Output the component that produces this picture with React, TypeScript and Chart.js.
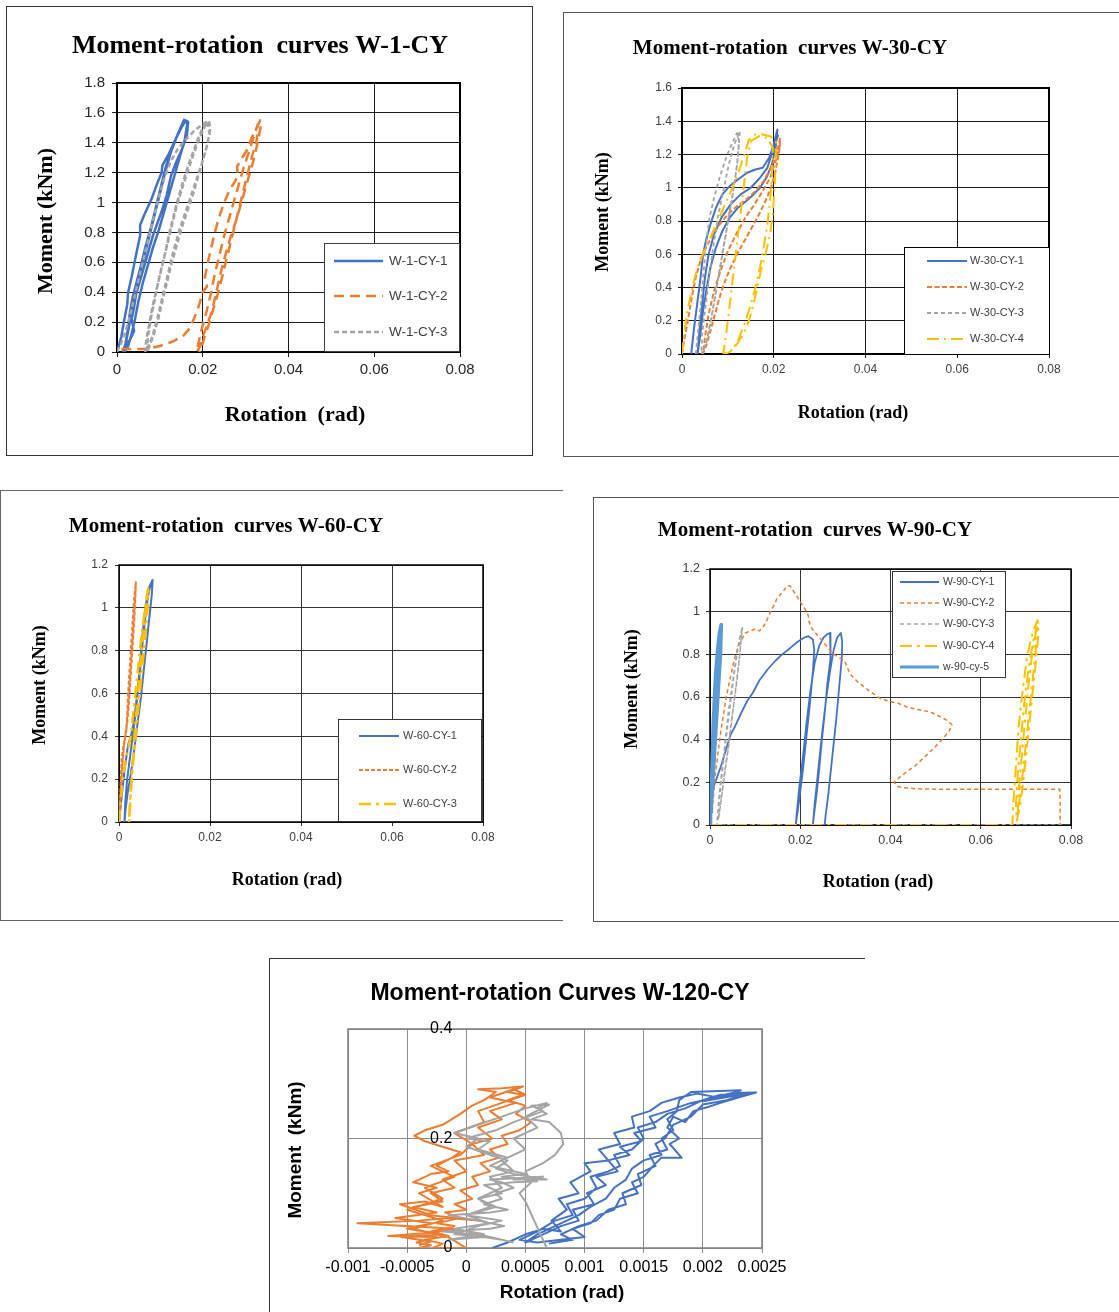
import React, { useEffect, useRef } from "react";
import { Chart, registerables } from "chart.js";

Chart.register(...registerables);

type Pt = [number, number];

// ================= W-1-CY =================
const W1_X_TICKS = [0, 0.02, 0.04, 0.06, 0.08];
const W1_Y_TICKS = [0, 0.2, 0.4, 0.6, 0.8, 1, 1.2, 1.4, 1.6, 1.8];
const W1_LABELS = ["W-1-CY-1", "W-1-CY-2", "W-1-CY-3"];
const W1_CY_1: Pt[] = [
  [0.0, 0.0], [0.001, 0.1], [0.0016, 0.2], [0.0024, 0.32], [0.0026, 0.4], [0.0034, 0.5], [0.0041, 0.6], [0.0048, 0.7], [0.0054, 0.78], [0.0054, 0.85], [0.0064, 0.92], [0.008, 1.02], [0.0094, 1.13], [0.0104, 1.2], [0.0106, 1.25], [0.012, 1.32], [0.0136, 1.42], [0.015, 1.5], [0.016, 1.55],
  [0.0166, 1.54], [0.0163, 1.45], [0.0152, 1.36], [0.0138, 1.27], [0.0126, 1.18], [0.0116, 1.05], [0.0104, 0.94], [0.0094, 0.86], [0.0084, 0.78], [0.0074, 0.68], [0.0064, 0.58], [0.0054, 0.48], [0.0044, 0.38], [0.004, 0.3], [0.0034, 0.22], [0.004, 0.14], [0.003, 0.08], [0.0018, 0.03], [0.0014, 0.0],
  [0.002, 0.06], [0.0026, 0.16], [0.003, 0.26], [0.0036, 0.36], [0.0045, 0.46], [0.0056, 0.58], [0.0066, 0.7], [0.0078, 0.82], [0.009, 0.96], [0.0102, 1.1], [0.0114, 1.24], [0.0128, 1.36], [0.0142, 1.46], [0.0156, 1.55],
  [0.0164, 1.53], [0.0158, 1.42], [0.0146, 1.3], [0.0134, 1.18], [0.0122, 1.06], [0.011, 0.94], [0.0098, 0.82], [0.0084, 0.7], [0.0072, 0.58], [0.006, 0.46], [0.005, 0.34], [0.0042, 0.22], [0.0034, 0.12], [0.0026, 0.04], [0.0018, 0.0],
  [0.0022, 0.08], [0.003, 0.2], [0.004, 0.34], [0.005, 0.48], [0.0062, 0.62], [0.0074, 0.76], [0.0088, 0.92], [0.01, 1.06], [0.0112, 1.2], [0.0126, 1.34], [0.0142, 1.46], [0.0158, 1.56]
];
const W1_CY_2: Pt[] = [
  [0.001, 0.02], [0.004, 0.02], [0.007, 0.02], [0.01, 0.04], [0.013, 0.07], [0.0155, 0.11], [0.017, 0.16], [0.0182, 0.24], [0.0192, 0.32], [0.02, 0.4], [0.021, 0.44], [0.0205, 0.5], [0.0212, 0.6], [0.022, 0.7], [0.0228, 0.8], [0.0238, 0.9], [0.025, 1.0], [0.0262, 1.08], [0.0275, 1.14], [0.0282, 1.18], [0.028, 1.24], [0.0292, 1.3], [0.0305, 1.36], [0.0312, 1.42], [0.0322, 1.48], [0.0334, 1.55],
  [0.0336, 1.52], [0.0328, 1.4], [0.032, 1.3], [0.031, 1.2], [0.0298, 1.08], [0.0288, 0.98], [0.0278, 0.88], [0.0266, 0.78], [0.0256, 0.68], [0.0246, 0.58], [0.0238, 0.48], [0.023, 0.38], [0.0222, 0.28], [0.021, 0.18], [0.02, 0.1], [0.0194, 0.04], [0.0186, 0.0],
  [0.019, 0.06], [0.0198, 0.16], [0.0208, 0.26], [0.0218, 0.38], [0.0228, 0.52], [0.024, 0.66], [0.0252, 0.8], [0.0266, 0.94], [0.028, 1.08], [0.0294, 1.22], [0.031, 1.36], [0.0328, 1.52],
  [0.0326, 1.42], [0.0314, 1.3], [0.03, 1.14], [0.0288, 1.0], [0.0276, 0.86], [0.0264, 0.72], [0.0252, 0.58], [0.024, 0.44], [0.0228, 0.32], [0.0216, 0.2], [0.0204, 0.1], [0.0196, 0.02], [0.0192, 0.0]
];
const W1_CY_3: Pt[] = [
  [0.0, 0.0], [0.001, 0.06], [0.002, 0.14], [0.003, 0.24], [0.004, 0.36], [0.005, 0.48], [0.006, 0.6], [0.0072, 0.74], [0.0084, 0.88], [0.0096, 1.02], [0.011, 1.16], [0.0126, 1.28], [0.0142, 1.36], [0.016, 1.42], [0.018, 1.48], [0.0198, 1.52], [0.0214, 1.55],
  [0.0218, 1.5], [0.021, 1.38], [0.0198, 1.26], [0.0186, 1.16], [0.0172, 1.04], [0.0158, 0.92], [0.0146, 0.82], [0.0134, 0.7], [0.0122, 0.56], [0.0112, 0.44], [0.0102, 0.32], [0.0092, 0.2], [0.0082, 0.1], [0.0072, 0.03], [0.0066, 0.0],
  [0.0068, 0.08], [0.0076, 0.2], [0.0084, 0.32], [0.0094, 0.44], [0.0104, 0.56], [0.0114, 0.68], [0.0124, 0.8], [0.0136, 0.94], [0.015, 1.08], [0.0164, 1.2], [0.0178, 1.32], [0.0194, 1.44], [0.021, 1.54],
  [0.0216, 1.46], [0.0206, 1.34], [0.0194, 1.22], [0.018, 1.08], [0.0166, 0.96], [0.0152, 0.84], [0.014, 0.72], [0.0128, 0.6], [0.0116, 0.46], [0.0106, 0.34], [0.0096, 0.22], [0.0086, 0.12], [0.0076, 0.04], [0.007, 0.0],
  [0.0072, 0.1], [0.008, 0.24], [0.009, 0.38], [0.01, 0.52], [0.0112, 0.66], [0.0124, 0.82], [0.0138, 0.98], [0.0154, 1.14], [0.017, 1.28], [0.0188, 1.42], [0.0206, 1.54]
];

// ================= W-30-CY =================
const W30_X_TICKS = [0, 0.02, 0.04, 0.06, 0.08];
const W30_Y_TICKS = [0, 0.2, 0.4, 0.6, 0.8, 1, 1.2, 1.4, 1.6];
const W30_LABELS = ["W-30-CY-1", "W-30-CY-2", "W-30-CY-3", "W-30-CY-4"];
const W30_CY_1: Pt[] = [
  [0.002, 0.0], [0.0026, 0.15], [0.0033, 0.3], [0.004, 0.45], [0.0046, 0.6], [0.0052, 0.68], [0.0062, 0.78], [0.0074, 0.88], [0.0088, 0.96], [0.0104, 1.01], [0.0122, 1.05], [0.0142, 1.09], [0.016, 1.11], [0.0176, 1.12], [0.019, 1.18], [0.02, 1.26], [0.0208, 1.35],
  [0.0204, 1.24], [0.0196, 1.14], [0.0184, 1.06], [0.017, 1.0], [0.0156, 0.96], [0.014, 0.92], [0.0122, 0.88], [0.0104, 0.82], [0.0088, 0.74], [0.0074, 0.64], [0.0062, 0.52], [0.0054, 0.4], [0.0046, 0.26], [0.004, 0.12], [0.0034, 0.0],
  [0.0038, 0.14], [0.0044, 0.3], [0.005, 0.46], [0.0058, 0.6], [0.007, 0.72], [0.0086, 0.82], [0.0106, 0.9], [0.0128, 0.96], [0.015, 1.0], [0.017, 1.06], [0.0186, 1.12], [0.02, 1.24], [0.021, 1.32]
];
const W30_CY_2: Pt[] = [
  [0.0, 0.0], [0.0006, 0.1], [0.0014, 0.22], [0.0022, 0.35], [0.003, 0.46], [0.004, 0.56], [0.0052, 0.64], [0.0066, 0.71], [0.0082, 0.78], [0.01, 0.84], [0.012, 0.89], [0.014, 0.93], [0.016, 0.98], [0.0178, 1.04], [0.0194, 1.12], [0.0206, 1.2], [0.0214, 1.3],
  [0.0212, 1.22], [0.0204, 1.1], [0.0194, 1.0], [0.0182, 0.92], [0.0168, 0.84], [0.0152, 0.76], [0.0136, 0.68], [0.012, 0.6], [0.0106, 0.52], [0.0094, 0.44], [0.0084, 0.36], [0.0074, 0.26], [0.0064, 0.16], [0.0054, 0.06], [0.0046, 0.0],
  [0.005, 0.1], [0.0058, 0.24], [0.007, 0.38], [0.0084, 0.5], [0.01, 0.62], [0.0118, 0.72], [0.0138, 0.82], [0.0158, 0.9], [0.0176, 0.98], [0.0192, 1.06], [0.0204, 1.16], [0.0214, 1.26]
];
const W30_CY_3: Pt[] = [
  [0.003, 0.0], [0.0036, 0.16], [0.0042, 0.34], [0.0048, 0.52], [0.0054, 0.7], [0.006, 0.82], [0.007, 0.94], [0.0082, 1.06], [0.0096, 1.18], [0.0108, 1.26], [0.012, 1.33],
  [0.0124, 1.28], [0.012, 1.14], [0.0112, 0.98], [0.0102, 0.82], [0.0092, 0.66], [0.0082, 0.5], [0.0072, 0.34], [0.0062, 0.18], [0.0052, 0.06], [0.0042, 0.0],
  [0.0044, 0.12], [0.0052, 0.3], [0.006, 0.48], [0.0068, 0.64], [0.0078, 0.82], [0.009, 0.98], [0.0102, 1.14], [0.0114, 1.26], [0.0126, 1.34],
  [0.0122, 1.18], [0.0114, 1.02], [0.0104, 0.86], [0.0094, 0.7], [0.0084, 0.54], [0.0074, 0.38], [0.0064, 0.22], [0.0054, 0.08], [0.0044, 0.0]
];
const W30_CY_4: Pt[] = [
  [0.0, 0.0], [0.0004, 0.1], [0.001, 0.24], [0.0018, 0.34], [0.0026, 0.44], [0.0036, 0.54], [0.0048, 0.62], [0.0062, 0.7], [0.0078, 0.8], [0.0094, 0.9], [0.011, 1.0], [0.0124, 1.1], [0.0136, 1.2], [0.0146, 1.29], [0.016, 1.32], [0.0176, 1.32], [0.0192, 1.31], [0.0205, 1.28],
  [0.0204, 1.15], [0.0202, 1.0], [0.0198, 0.85], [0.0192, 0.72], [0.0182, 0.6], [0.0172, 0.5], [0.0164, 0.4], [0.0156, 0.3], [0.0146, 0.2], [0.0134, 0.12], [0.012, 0.06], [0.0106, 0.02], [0.009, 0.0],
  [0.0094, 0.08], [0.01, 0.2], [0.0106, 0.34], [0.0112, 0.48], [0.0118, 0.62], [0.0124, 0.76], [0.013, 0.9], [0.0136, 1.04], [0.0142, 1.18], [0.015, 1.28], [0.0168, 1.31], [0.0186, 1.3], [0.0198, 1.24],
  [0.0196, 1.08], [0.0192, 0.92], [0.0186, 0.78], [0.0178, 0.64], [0.017, 0.52], [0.016, 0.4], [0.0148, 0.28], [0.0136, 0.18], [0.0122, 0.08], [0.0108, 0.02], [0.0096, 0.0]
];

// ================= W-60-CY =================
const W60_X_TICKS = [0, 0.02, 0.04, 0.06, 0.08];
const W60_Y_TICKS = [0, 0.2, 0.4, 0.6, 0.8, 1, 1.2];
const W60_LABELS = ["W-60-CY-1", "W-60-CY-2", "W-60-CY-3"];
const W60_CY_1: Pt[] = [
  [0.0, 0.0], [0.0004, 0.08], [0.0008, 0.16], [0.0012, 0.24], [0.0016, 0.3], [0.002, 0.36], [0.0026, 0.4], [0.0032, 0.46], [0.0038, 0.56], [0.0043, 0.66], [0.0047, 0.76], [0.0051, 0.86], [0.0056, 0.96], [0.0061, 1.04], [0.0067, 1.1], [0.0074, 1.13],
  [0.0072, 1.06], [0.0068, 0.98], [0.0063, 0.88], [0.0058, 0.78], [0.0053, 0.68], [0.0048, 0.58], [0.0042, 0.48], [0.0036, 0.38], [0.003, 0.28], [0.0024, 0.2], [0.0018, 0.12], [0.0014, 0.05], [0.0012, 0.0],
  [0.0014, 0.1], [0.0018, 0.2], [0.0024, 0.3], [0.003, 0.4], [0.0036, 0.5], [0.0041, 0.6], [0.0046, 0.7], [0.005, 0.8], [0.0055, 0.9], [0.006, 1.0], [0.0066, 1.08], [0.0073, 1.13]
];
const W60_CY_2: Pt[] = [
  [0.0, 0.0], [0.0002, 0.1], [0.0004, 0.2], [0.0006, 0.3], [0.001, 0.36], [0.0016, 0.42], [0.0018, 0.5], [0.002, 0.6], [0.0023, 0.7], [0.0026, 0.8], [0.0029, 0.9], [0.0032, 1.0], [0.0034, 1.06], [0.0037, 1.12],
  [0.0036, 1.05], [0.0034, 0.96], [0.0031, 0.86], [0.0028, 0.76], [0.0025, 0.66], [0.0022, 0.56], [0.0018, 0.46], [0.0012, 0.38], [0.0008, 0.28], [0.0005, 0.18], [0.0002, 0.08], [0.0001, 0.0],
  [0.0003, 0.12], [0.0006, 0.24], [0.001, 0.34], [0.0016, 0.44], [0.002, 0.54], [0.0023, 0.64], [0.0026, 0.74], [0.0029, 0.84], [0.0032, 0.94], [0.0035, 1.04], [0.0037, 1.11]
];
const W60_CY_3: Pt[] = [
  [0.0, 0.0], [0.0004, 0.1], [0.0008, 0.2], [0.0014, 0.28], [0.002, 0.34], [0.0026, 0.4], [0.003, 0.48], [0.0035, 0.58], [0.004, 0.68], [0.0045, 0.78], [0.005, 0.88], [0.0055, 0.96], [0.006, 1.04], [0.0064, 1.09],
  [0.0063, 1.0], [0.0059, 0.9], [0.0055, 0.8], [0.005, 0.7], [0.0046, 0.6], [0.0041, 0.5], [0.0037, 0.4], [0.0032, 0.3], [0.0028, 0.2], [0.0025, 0.1], [0.0022, 0.0],
  [0.0024, 0.1], [0.0028, 0.22], [0.0032, 0.34], [0.0036, 0.46], [0.0041, 0.58], [0.0046, 0.7], [0.0051, 0.82], [0.0056, 0.94], [0.0061, 1.04], [0.0065, 1.08]
];

// ================= W-90-CY =================
const W90_X_TICKS = [0, 0.02, 0.04, 0.06, 0.08];
const W90_Y_TICKS = [0, 0.2, 0.4, 0.6, 0.8, 1, 1.2];
const W90_LABELS = ["W-90-CY-1", "W-90-CY-2", "W-90-CY-3", "W-90-CY-4", "w-90-cy-5"];
const W90_CY_1: Pt[] = [
  [0.0, 0.0], [0.0004, 0.1], [0.0008, 0.18], [0.0015, 0.22], [0.0025, 0.28], [0.0035, 0.35], [0.0045, 0.42], [0.0055, 0.46], [0.0068, 0.52], [0.0082, 0.58], [0.0095, 0.62], [0.011, 0.68], [0.0128, 0.73], [0.0145, 0.77], [0.016, 0.8], [0.0178, 0.83], [0.0195, 0.86], [0.021, 0.88], [0.0218, 0.885], [0.0228, 0.87], [0.0231, 0.82],
  [0.0228, 0.72], [0.0222, 0.58], [0.0214, 0.42], [0.0206, 0.26], [0.0198, 0.12], [0.019, 0.0], [0.0192, 0.05], [0.0198, 0.18], [0.0206, 0.32], [0.0214, 0.48], [0.0222, 0.62], [0.0232, 0.76], [0.0242, 0.84], [0.0252, 0.88], [0.026, 0.895], [0.0266, 0.9],
  [0.0268, 0.85], [0.0266, 0.78], [0.026, 0.66], [0.0254, 0.52], [0.0248, 0.4], [0.0242, 0.26], [0.0236, 0.14], [0.023, 0.04], [0.0228, 0.0], [0.0232, 0.1], [0.0238, 0.22], [0.0244, 0.34], [0.025, 0.46], [0.0258, 0.6], [0.0266, 0.72], [0.0274, 0.82], [0.0282, 0.88], [0.029, 0.9],
  [0.0293, 0.86], [0.0292, 0.78], [0.0286, 0.64], [0.028, 0.5], [0.0274, 0.38], [0.0268, 0.26], [0.0262, 0.14], [0.0256, 0.04], [0.0254, 0.0]
];
const W90_CY_2: Pt[] = [
  [0.0, 0.0], [0.0004, 0.06], [0.0008, 0.14], [0.0012, 0.24], [0.0018, 0.34], [0.0024, 0.44], [0.003, 0.52], [0.0036, 0.6], [0.0044, 0.68], [0.0052, 0.76], [0.006, 0.82], [0.0068, 0.86], [0.0078, 0.9], [0.009, 0.91], [0.0102, 0.92], [0.011, 0.91], [0.0118, 0.93], [0.0124, 0.95], [0.013, 0.98], [0.0136, 1.01], [0.0142, 1.03], [0.0148, 1.06], [0.0156, 1.08], [0.0164, 1.1], [0.017, 1.12], [0.0178, 1.12],
  [0.0184, 1.1], [0.019, 1.08], [0.0196, 1.06], [0.0202, 1.04], [0.0208, 1.02], [0.0214, 1.0], [0.0218, 0.98], [0.022, 0.95], [0.0226, 0.92], [0.0234, 0.9], [0.0242, 0.88], [0.025, 0.86], [0.0258, 0.84], [0.0266, 0.82], [0.0274, 0.8], [0.0282, 0.79], [0.029, 0.78], [0.0298, 0.77], [0.0304, 0.74], [0.031, 0.71], [0.0318, 0.69], [0.0328, 0.67], [0.034, 0.65], [0.0352, 0.63], [0.0366, 0.61], [0.038, 0.59], [0.0398, 0.58], [0.0418, 0.57], [0.044, 0.55], [0.0464, 0.54], [0.0488, 0.53], [0.0508, 0.51], [0.0526, 0.49], [0.0536, 0.47],
  [0.053, 0.44], [0.0514, 0.4], [0.0496, 0.36], [0.0476, 0.32], [0.0456, 0.28], [0.0436, 0.25], [0.0418, 0.22], [0.0408, 0.2], [0.0416, 0.18], [0.043, 0.175], [0.0455, 0.17], [0.05, 0.168], [0.055, 0.167], [0.06, 0.167], [0.065, 0.167], [0.07, 0.167], [0.0752, 0.167], [0.0775, 0.167], [0.0776, 0.1], [0.0776, 0.0]
];
const W90_CY_3: Pt[] = [
  [0.078, 0.0], [0.0015, 0.0], [0.0018, 0.08], [0.0022, 0.18], [0.0028, 0.28], [0.0034, 0.4], [0.004, 0.52], [0.0048, 0.64], [0.0056, 0.76], [0.0064, 0.86], [0.0072, 0.93],
  [0.0068, 0.84], [0.0062, 0.72], [0.0055, 0.6], [0.0047, 0.48], [0.004, 0.36], [0.0032, 0.24], [0.0025, 0.12], [0.0018, 0.02],
  [0.002, 0.1], [0.0026, 0.22], [0.0032, 0.34], [0.0039, 0.46], [0.0046, 0.58], [0.0053, 0.7], [0.006, 0.8], [0.0066, 0.88], [0.0071, 0.92],
  [0.0066, 0.8], [0.0058, 0.66], [0.005, 0.52], [0.0042, 0.38], [0.0034, 0.26], [0.0026, 0.14], [0.002, 0.04]
];
const W90_CY_4: Pt[] = [
  [0.0, 0.0], [0.067, 0.0], [0.0672, 0.1], [0.0676, 0.22], [0.068, 0.34], [0.0684, 0.46], [0.069, 0.58], [0.0696, 0.68], [0.0702, 0.78], [0.071, 0.86], [0.0718, 0.92], [0.0726, 0.96],
  [0.0728, 0.9], [0.0724, 0.8], [0.0718, 0.68], [0.0712, 0.56], [0.0706, 0.44], [0.07, 0.32], [0.0694, 0.2], [0.0688, 0.1], [0.068, 0.02],
  [0.0678, 0.1], [0.0682, 0.24], [0.0688, 0.38], [0.0694, 0.52], [0.07, 0.64], [0.0708, 0.76], [0.0716, 0.86], [0.0724, 0.93],
  [0.0722, 0.82], [0.0716, 0.7], [0.071, 0.58], [0.0704, 0.46], [0.0698, 0.34], [0.0692, 0.22], [0.0686, 0.12], [0.0682, 0.04],
  [0.0684, 0.16], [0.069, 0.3], [0.0696, 0.44], [0.0702, 0.58], [0.0708, 0.7], [0.0714, 0.8], [0.0722, 0.9], [0.0728, 0.95]
];
const W90_CY_5: Pt[] = [
  [0.0, 0.0], [0.0002, 0.15], [0.0004, 0.3], [0.0006, 0.45], [0.0009, 0.6], [0.0012, 0.72], [0.0016, 0.82], [0.002, 0.9], [0.0024, 0.94],
  [0.0025, 0.88], [0.0022, 0.76], [0.0018, 0.62], [0.0014, 0.48], [0.001, 0.34], [0.0006, 0.2], [0.0003, 0.06],
  [0.0004, 0.2], [0.0008, 0.36], [0.0012, 0.52], [0.0016, 0.66], [0.002, 0.8], [0.0024, 0.92], [0.0026, 0.94],
  [0.0024, 0.8], [0.002, 0.66], [0.0016, 0.52], [0.0012, 0.38], [0.0008, 0.24], [0.0004, 0.1],
  [0.0006, 0.26], [0.001, 0.42], [0.0014, 0.58], [0.0018, 0.72], [0.0022, 0.86], [0.0025, 0.93]
];

// ================= W-120-CY =================
const W120_X_TICKS = [-0.001, -0.0005, 0, 0.0005, 0.001, 0.0015, 0.002, 0.0025];
const W120_Y_TICKS = [0, 0.2, 0.4];
const W120_LABELS = ["W-120-CY-1", "W-120-CY-2", "W-120-CY-3"];
const W120_CY_1: Pt[] = [
  [0.00022, 0.0], [0.00035, 0.01], [0.0005, 0.025], [0.00065, 0.035], [0.0008, 0.03], [0.00072, 0.05], [0.00085, 0.07], [0.00078, 0.09], [0.00095, 0.1], [0.00088, 0.12], [0.00105, 0.14], [0.001, 0.155], [0.0012, 0.16], [0.00112, 0.18], [0.0013, 0.19], [0.00125, 0.21], [0.00142, 0.22], [0.0014, 0.24], [0.00155, 0.25], [0.00165, 0.265], [0.0018, 0.275], [0.00195, 0.282], [0.0021, 0.276], [0.00225, 0.283], [0.00245, 0.284],
  [0.0023, 0.275], [0.00215, 0.265], [0.00205, 0.258], [0.00192, 0.25], [0.00185, 0.23], [0.00175, 0.24], [0.0017, 0.22], [0.0018, 0.2], [0.00172, 0.19], [0.00182, 0.165], [0.00165, 0.165], [0.00158, 0.15], [0.0015, 0.13], [0.0014, 0.12], [0.00145, 0.1], [0.0013, 0.09], [0.00125, 0.07], [0.00112, 0.06], [0.00105, 0.045], [0.0009, 0.035], [0.001, 0.02], [0.0008, 0.015], [0.0006, 0.01], [0.00045, 0.015],
  [0.0006, 0.03], [0.00075, 0.05], [0.0009, 0.06], [0.00085, 0.08], [0.001, 0.09], [0.0011, 0.11], [0.00105, 0.13], [0.0012, 0.14], [0.0013, 0.15], [0.00125, 0.17], [0.0014, 0.18], [0.0015, 0.2], [0.00145, 0.22], [0.0016, 0.23], [0.0017, 0.245], [0.00185, 0.255], [0.002, 0.27], [0.00215, 0.28], [0.00235, 0.28],
  [0.0022, 0.27], [0.002, 0.262], [0.0019, 0.24], [0.00175, 0.225], [0.00168, 0.2], [0.0016, 0.19], [0.00165, 0.17], [0.0015, 0.16], [0.0014, 0.145], [0.00135, 0.125], [0.00125, 0.11], [0.00118, 0.09], [0.00105, 0.075], [0.00095, 0.06], [0.00085, 0.05], [0.0007, 0.035], [0.0006, 0.025], [0.0005, 0.01],
  [0.0006, 0.02], [0.0008, 0.04], [0.00095, 0.05], [0.0009, 0.07], [0.00108, 0.08], [0.00102, 0.1], [0.00118, 0.115], [0.0011, 0.13], [0.00128, 0.14], [0.0012, 0.16], [0.00138, 0.17], [0.0013, 0.185], [0.00148, 0.195], [0.00142, 0.21], [0.0016, 0.22], [0.00155, 0.24], [0.0017, 0.25], [0.0019, 0.265], [0.0022, 0.278], [0.002, 0.268], [0.0024, 0.283], [0.0021, 0.272], [0.00232, 0.288], [0.0019, 0.285],
  [0.0018, 0.27], [0.00178, 0.25], [0.0017, 0.235], [0.00175, 0.215], [0.00165, 0.2], [0.0017, 0.18], [0.00155, 0.17], [0.0016, 0.15], [0.00145, 0.135], [0.00148, 0.115], [0.00132, 0.1], [0.00135, 0.08], [0.0012, 0.07], [0.0011, 0.05], [0.00095, 0.04], [0.0008, 0.025], [0.0009, 0.015], [0.0007, 0.008]
];
const W120_CY_2: Pt[] = [
  [-0.0004, 0.0], [-0.0003, 0.005], [-0.00042, 0.01], [-0.00025, 0.02], [-0.00066, 0.022], [-0.0003, 0.028], [-0.0001, 0.035], [-0.00092, 0.045], [-0.0004, 0.05], [-0.00015, 0.055], [0.0001, 0.05], [-0.0003, 0.06], [-0.00056, 0.08], [-0.00035, 0.085], [-0.0002, 0.075], [-0.0004, 0.1], [-0.00025, 0.11], [-0.00045, 0.12], [-0.0003, 0.135], [-0.00015, 0.14], [-0.00025, 0.15], [-0.00012, 0.165], [-0.00005, 0.175], [-0.0002, 0.185], [-0.00035, 0.195], [-0.00044, 0.205], [-0.00035, 0.215], [-0.0002, 0.225], [-0.00005, 0.245], [0.00005, 0.26], [0.00015, 0.27], [0.00025, 0.285], [0.0001, 0.29], [0.0003, 0.292], [0.00048, 0.295],
  [0.00035, 0.285], [0.00048, 0.28], [0.00035, 0.27], [0.0005, 0.26], [0.00042, 0.245], [0.00055, 0.23], [0.00045, 0.215], [0.0003, 0.205], [0.00035, 0.19], [0.0002, 0.18], [0.00028, 0.165], [0.00012, 0.155], [0.0002, 0.14], [0.00005, 0.13], [0.0001, 0.115], [-0.00005, 0.105], [0.00005, 0.09], [-0.0001, 0.08], [0.0, 0.07], [-0.00018, 0.065], [-0.00005, 0.055], [-0.00025, 0.045], [-0.0001, 0.04], [-0.0003, 0.03], [-0.00015, 0.022], [-0.00035, 0.015], [-0.0002, 0.008], [-0.00028, 0.0], [0.0, 0.0],
  [-0.00015, 0.02], [-0.00045, 0.035], [-0.0002, 0.05], [-0.0005, 0.07], [-0.0002, 0.09], [-0.00035, 0.11], [-0.0001, 0.13], [-0.0003, 0.15], [-0.00005, 0.17], [0.00005, 0.19], [-0.0001, 0.21], [0.00015, 0.23], [0.0001, 0.25], [0.0003, 0.265], [0.0005, 0.28], [0.0004, 0.29],
  [0.0002, 0.275], [0.00042, 0.265], [0.0002, 0.25], [0.0003, 0.235], [0.0001, 0.22], [0.00022, 0.2], [0.00005, 0.19], [0.00015, 0.17], [-0.0001, 0.16], [0.0, 0.14], [-0.0002, 0.125], [-0.0001, 0.11], [-0.0003, 0.1], [-0.0002, 0.085], [-0.00045, 0.075], [-0.00025, 0.065], [-0.0006, 0.055], [-0.0003, 0.045], [-0.0005, 0.035], [-0.0002, 0.025], [-0.00055, 0.02], [-0.0003, 0.012], [-0.0004, 0.005]
];
const W120_CY_3: Pt[] = [
  [0.0004, 0.01], [0.0002, 0.02], [-0.0001, 0.025], [0.0001, 0.04], [0.0003, 0.05], [0.0, 0.06], [0.0002, 0.075], [0.0001, 0.09], [0.0003, 0.1], [0.00015, 0.115], [0.0004, 0.12], [0.0006, 0.122], [0.0003, 0.13], [0.0005, 0.135], [0.0002, 0.15], [0.00035, 0.165], [0.0001, 0.18], [0.0002, 0.195], [0.0, 0.2], [0.00025, 0.215], [0.0004, 0.23], [0.00065, 0.25], [0.00055, 0.26], [0.0007, 0.262],
  [0.0005, 0.24], [0.0006, 0.22], [0.0004, 0.2], [0.0005, 0.18], [0.0003, 0.16], [0.0004, 0.14], [0.0002, 0.13], [0.0003, 0.11], [0.0001, 0.09], [0.00025, 0.075], [0.0, 0.06], [0.0002, 0.045], [-0.0001, 0.035], [0.00015, 0.025], [-0.00015, 0.015],
  [0.00015, 0.02], [0.0003, 0.015], [0.0001, 0.025], [-0.0002, 0.03], [0.0002, 0.035], [0.00032, 0.04], [0.0001, 0.05], [-0.00015, 0.06], [0.0002, 0.065], [0.00035, 0.07], [0.00015, 0.08], [0.0003, 0.09], [0.00025, 0.1], [0.0004, 0.11], [0.0003, 0.12], [0.0002, 0.125], [0.00045, 0.128], [0.00065, 0.13], [0.0004, 0.125], [0.00068, 0.125], [0.0004, 0.135], [0.00025, 0.145], [0.00035, 0.16], [0.0002, 0.17], [0.0, 0.185], [0.0001, 0.2], [-0.0001, 0.21], [0.0001, 0.225], [0.0003, 0.24], [0.0005, 0.255], [0.00068, 0.265],
  [0.0006, 0.255], [0.00068, 0.245], [0.00055, 0.235], [0.0007, 0.23], [0.0008, 0.21], [0.00082, 0.19], [0.00075, 0.17], [0.00065, 0.155], [0.0005, 0.14], [0.00055, 0.12], [0.00045, 0.1], [0.0005, 0.085], [0.00068, 0.0]
];

// ================= rendering =================
type SeriesDef = { label: string; data: Pt[]; color: string; width: number; dash: number[] };
type TextDef = { text: string; x: number; y: number; font: string; rotate?: boolean };
type LegendDef = { box: [number, number, number, number]; rows: number[]; line: [number, number]; textX: number; font: string; color: string; border: string };
type PanelDef = {
  canvas: [number, number, number, number];
  plot: [number, number, number, number];
  xTicks: number[];
  yTicks: number[];
  series: SeriesDef[];
  texts: TextDef[];
  tickSize: number;
  tickColor: string;
  gridColor: string;
  borderColor: string;
  borderWidth: number;
  xPad: number;
  yPad: number;
  tickLen: number;
  legend?: LegendDef;
  yLabelsAtZero?: boolean;
};

const BLUE = "#4472C4";
const ORANGE = "#ED7D31";
const GRAY = "#A5A5A5";
const YELLOW = "#FFC000";
const LIGHTBLUE = "#5B9BD5";
const SANS = '"Liberation Sans", Arial, sans-serif';
const SERIF = '"Liberation Serif", "Times New Roman", serif';

const PANELS: PanelDef[] = [
  {
    canvas: [6, 6, 527, 450],
    plot: [117, 83, 460, 352],
    xTicks: W1_X_TICKS,
    yTicks: W1_Y_TICKS,
    series: [
      { label: W1_LABELS[0], data: W1_CY_1, color: BLUE, width: 2.5, dash: [] },
      { label: W1_LABELS[1], data: W1_CY_2, color: ORANGE, width: 2.5, dash: [10, 6] },
      { label: W1_LABELS[2], data: W1_CY_3, color: GRAY, width: 2.5, dash: [5, 3] },
    ],
    texts: [
      { text: "Moment-rotation  curves W-1-CY", x: 260, y: 53, font: `bold 26px ${SERIF}` },
      { text: "Moment (kNm)", x: 46, y: 221, font: `bold 22px ${SERIF}`, rotate: true },
      { text: "Rotation  (rad)", x: 295, y: 421, font: `bold 22px ${SERIF}` },
    ],
    tickSize: 15,
    tickColor: "#262626",
    gridColor: "#1a1a1a",
    borderColor: "#000",
    borderWidth: 2,
    xPad: 4,
    yPad: 7,
    tickLen: 5,
    legend: { box: [324, 243, 459, 351], rows: [261, 296, 332], line: [334, 383], textX: 389, font: `13.5px ${SANS}`, color: "#404040", border: "#404040" },
  },
  {
    canvas: [563, 12, 556, 445],
    plot: [682, 88, 1049, 354],
    xTicks: W30_X_TICKS,
    yTicks: W30_Y_TICKS,
    series: [
      { label: W30_LABELS[0], data: W30_CY_1, color: BLUE, width: 2, dash: [] },
      { label: W30_LABELS[1], data: W30_CY_2, color: ORANGE, width: 2, dash: [5, 2.5] },
      { label: W30_LABELS[2], data: W30_CY_3, color: GRAY, width: 1.8, dash: [4, 3] },
      { label: W30_LABELS[3], data: W30_CY_4, color: YELLOW, width: 2, dash: [12, 5, 2, 5] },
    ],
    texts: [
      { text: "Moment-rotation  curves W-30-CY", x: 790, y: 54, font: `bold 21px ${SERIF}` },
      { text: "Moment (kNm)", x: 603, y: 212, font: `bold 18px ${SERIF}`, rotate: true },
      { text: "Rotation (rad)", x: 853, y: 418, font: `bold 18px ${SERIF}` },
    ],
    tickSize: 12,
    tickColor: "#404040",
    gridColor: "#1a1a1a",
    borderColor: "#000",
    borderWidth: 2,
    xPad: 4,
    yPad: 6,
    tickLen: 4,
    legend: { box: [904, 247, 1049, 354], rows: [261, 287, 313, 339], line: [927, 967], textX: 970, font: `11px ${SANS}`, color: "#404040", border: "#000" },
  },
  {
    canvas: [0, 490, 563, 431],
    plot: [119, 565, 483, 822],
    xTicks: W60_X_TICKS,
    yTicks: W60_Y_TICKS,
    series: [
      { label: W60_LABELS[0], data: W60_CY_1, color: BLUE, width: 2, dash: [] },
      { label: W60_LABELS[1], data: W60_CY_2, color: ORANGE, width: 2, dash: [4, 2] },
      { label: W60_LABELS[2], data: W60_CY_3, color: YELLOW, width: 2.5, dash: [12, 5, 3, 5] },
    ],
    texts: [
      { text: "Moment-rotation  curves W-60-CY", x: 226, y: 532, font: `bold 21px ${SERIF}` },
      { text: "Moment (kNm)", x: 40, y: 685, font: `bold 18px ${SERIF}`, rotate: true },
      { text: "Rotation (rad)", x: 287, y: 885, font: `bold 18px ${SERIF}` },
    ],
    tickSize: 12,
    tickColor: "#404040",
    gridColor: "#333",
    borderColor: "#000",
    borderWidth: 1.5,
    xPad: 4,
    yPad: 7,
    tickLen: 4,
    legend: { box: [338, 719, 481, 821], rows: [736, 770, 804], line: [359, 399], textX: 403, font: `11px ${SANS}`, color: "#404040", border: "#333" },
  },
  {
    canvas: [593, 497, 526, 425],
    plot: [710, 569, 1071, 825],
    xTicks: W90_X_TICKS,
    yTicks: W90_Y_TICKS,
    series: [
      { label: W90_LABELS[0], data: W90_CY_1, color: BLUE, width: 1.8, dash: [] },
      { label: W90_LABELS[1], data: W90_CY_2, color: ORANGE, width: 1.5, dash: [4, 3] },
      { label: W90_LABELS[2], data: W90_CY_3, color: GRAY, width: 1.5, dash: [4, 3] },
      { label: W90_LABELS[3], data: W90_CY_4, color: YELLOW, width: 2, dash: [12, 5, 3, 5] },
      { label: W90_LABELS[4], data: W90_CY_5, color: LIGHTBLUE, width: 2.8, dash: [] },
    ],
    texts: [
      { text: "Moment-rotation  curves W-90-CY", x: 815, y: 536, font: `bold 21px ${SERIF}` },
      { text: "Moment (kNm)", x: 632, y: 689, font: `bold 18px ${SERIF}`, rotate: true },
      { text: "Rotation (rad)", x: 878, y: 887, font: `bold 18px ${SERIF}` },
    ],
    tickSize: 12.5,
    tickColor: "#404040",
    gridColor: "#333",
    borderColor: "#000",
    borderWidth: 1.5,
    xPad: 4,
    yPad: 6,
    tickLen: 4,
    legend: { box: [892, 571, 1005, 677], rows: [582, 603, 624, 646, 667], line: [900, 939], textX: 943, font: `10.5px ${SANS}`, color: "#404040", border: "#333" },
  },
  {
    canvas: [269, 958, 596, 354],
    plot: [348, 1029, 762, 1248],
    xTicks: W120_X_TICKS,
    yTicks: W120_Y_TICKS,
    series: [
      { label: W120_LABELS[0], data: W120_CY_1, color: BLUE, width: 2, dash: [] },
      { label: W120_LABELS[1], data: W120_CY_2, color: ORANGE, width: 2, dash: [] },
      { label: W120_LABELS[2], data: W120_CY_3, color: GRAY, width: 2, dash: [] },
    ],
    texts: [
      { text: "Moment-rotation Curves W-120-CY", x: 560, y: 1000, font: `bold 23px ${SANS}` },
      { text: "Moment  (kNm)", x: 296, y: 1150, font: `bold 19px ${SANS}`, rotate: true },
      { text: "Rotation (rad)", x: 562, y: 1298, font: `bold 19px ${SANS}` },
    ],
    tickSize: 16,
    tickColor: "#000",
    gridColor: "#8c8c8c",
    borderColor: "#7f7f7f",
    borderWidth: 1.5,
    xPad: 5,
    yPad: 6,
    tickLen: 5,
    yLabelsAtZero: true,
  },
];

const FRAMES: { x: number; y: number; w: number; h: number; sides: [boolean, boolean, boolean, boolean]; color: string }[] = [
  { x: 6, y: 6, w: 527, h: 450, sides: [true, true, true, true], color: "#333" },
  { x: 563, y: 12, w: 560, h: 445, sides: [true, true, true, true], color: "#555" },
  { x: 0, y: 490, w: 563, h: 431, sides: [true, false, true, true], color: "#666" },
  { x: 593, y: 497, w: 530, h: 425, sides: [true, true, true, true], color: "#555" },
  { x: 269, y: 958, w: 596, h: 360, sides: [true, false, false, true], color: "#333" },
];

const fmt = (v: number) => String(parseFloat(Number(v).toFixed(6)));

function PanelChart({ def }: { def: PanelDef }) {
  const ref = useRef<HTMLCanvasElement>(null);
  const [cx, cy, cw, ch] = def.canvas;
  useEffect(() => {
    const [pl, pt, pr, pb] = def.plot;
    const Y_W = 40;
    const X_H = 30;
    const decor = {
      id: "decor",
      beforeDatasetsDraw(chart: any) {
        const a = chart.chartArea;
        const ctx = chart.ctx as CanvasRenderingContext2D;
        ctx.save();
        ctx.strokeStyle = def.borderColor;
        ctx.lineWidth = def.borderWidth;
        ctx.strokeRect(a.left, a.top, a.right - a.left, a.bottom - a.top);
        ctx.restore();
      },
      afterDatasetsDraw(chart: any) {
        const lg = def.legend;
        if (!lg) return;
        const ctx = chart.ctx as CanvasRenderingContext2D;
        ctx.save();
        const [l, t, r, b] = lg.box;
        ctx.fillStyle = "#fff";
        ctx.fillRect(l - cx, t - cy, r - l, b - t);
        ctx.strokeStyle = lg.border;
        ctx.lineWidth = 1;
        ctx.strokeRect(l - cx + 0.5, t - cy + 0.5, r - l, b - t);
        def.series.forEach((s, i) => {
          const yy = lg.rows[i] - cy;
          ctx.beginPath();
          ctx.setLineDash(s.dash);
          ctx.strokeStyle = s.color;
          ctx.lineWidth = s.width;
          ctx.moveTo(lg.line[0] - cx, yy);
          ctx.lineTo(lg.line[1] - cx, yy);
          ctx.stroke();
          ctx.setLineDash([]);
          ctx.fillStyle = lg.color;
          ctx.font = lg.font;
          ctx.textAlign = "left";
          ctx.textBaseline = "middle";
          ctx.fillText(s.label, lg.textX - cx, yy);
        });
        ctx.restore();
      },
      afterDraw(chart: any) {
        const ctx = chart.ctx as CanvasRenderingContext2D;
        ctx.save();
        ctx.fillStyle = "#000";
        def.texts.forEach((t) => {
          ctx.font = t.font;
          ctx.textAlign = "center";
          if (t.rotate) {
            ctx.save();
            ctx.translate(t.x - cx, t.y - cy);
            ctx.rotate(-Math.PI / 2);
            ctx.textBaseline = "middle";
            ctx.fillText(t.text, 0, 0);
            ctx.restore();
          } else {
            ctx.textBaseline = "alphabetic";
            ctx.fillText(t.text, t.x - cx, t.y - cy);
          }
        });
        if (def.yLabelsAtZero) {
          const xs = chart.scales.x;
          const ys = chart.scales.y;
          const x0 = xs.getPixelForValue(0) - 14;
          ctx.font = `${def.tickSize}px ${SANS}`;
          ctx.fillStyle = def.tickColor;
          ctx.textAlign = "right";
          ctx.textBaseline = "middle";
          def.yTicks.forEach((v) => {
            ctx.fillText(fmt(v), x0, ys.getPixelForValue(v));
          });
        }
        ctx.restore();
      },
    };
    const chart = new Chart(ref.current as HTMLCanvasElement, {
      type: "scatter",
      data: {
        datasets: def.series.map((s, i) => ({
          label: s.label,
          data: s.data.map(([x, y]) => ({ x, y })),
          showLine: true,
          borderColor: s.color,
          backgroundColor: s.color,
          borderWidth: s.width,
          borderDash: s.dash,
          borderCapStyle: "butt",
          borderJoinStyle: "round",
          pointRadius: 0,
          pointHoverRadius: 0,
          tension: 0,
          fill: false,
          order: -i,
        })),
      },
      options: {
        animation: false,
        responsive: false,
        devicePixelRatio: 1,
        events: [],
        layout: {
          padding: { left: pl - cx - Y_W, top: pt - cy, right: cx + cw - pr, bottom: cy + ch - pb - X_H },
        },
        plugins: { legend: { display: false }, tooltip: { enabled: false }, title: { display: false } },
        scales: {
          x: {
            type: "linear",
            min: def.xTicks[0],
            max: def.xTicks[def.xTicks.length - 1],
            afterBuildTicks: (sc: any) => {
              sc.ticks = def.xTicks.map((v) => ({ value: v }));
            },
            afterFit: (sc: any) => {
              sc.height = X_H;
            },
            grid: { color: def.gridColor, lineWidth: 1, tickLength: def.tickLen, drawTicks: true, tickColor: def.gridColor },
            border: { display: false },
            ticks: {
              font: { family: SANS, size: def.tickSize },
              color: def.tickColor,
              padding: def.xPad,
              maxRotation: 0,
              autoSkip: false,
              callback: (v: any) => fmt(v),
            },
          },
          y: {
            type: "linear",
            min: def.yTicks[0],
            max: def.yTicks[def.yTicks.length - 1],
            afterBuildTicks: (sc: any) => {
              sc.ticks = def.yTicks.map((v) => ({ value: v }));
            },
            afterFit: (sc: any) => {
              sc.width = Y_W;
            },
            grid: { color: def.gridColor, lineWidth: 1, tickLength: def.tickLen, drawTicks: !def.yLabelsAtZero, tickColor: def.gridColor },
            border: { display: false },
            ticks: {
              display: !def.yLabelsAtZero,
              font: { family: SANS, size: def.tickSize },
              color: def.tickColor,
              padding: def.yPad,
              autoSkip: false,
              callback: (v: any) => fmt(v),
            },
          },
        },
      },
      plugins: [decor],
    } as any);
    return () => chart.destroy();
  }, [def]);
  return (
    <canvas
      ref={ref}
      width={cw}
      height={ch}
      style={{ position: "absolute", left: cx, top: cy, width: cw, height: ch, display: "block" }}
    />
  );
}

export default function App() {
  return (
    <div style={{ position: "absolute", left: 0, top: 0, width: 1119, height: 1312, overflow: "hidden", background: "#fff" }}>
      {FRAMES.map((f, i) => (
        <div
          key={"f" + i}
          style={{
            position: "absolute",
            left: f.x,
            top: f.y,
            width: f.w,
            height: f.h,
            boxSizing: "border-box",
            borderTop: f.sides[0] ? `1.5px solid ${f.color}` : "none",
            borderRight: f.sides[1] ? `1.5px solid ${f.color}` : "none",
            borderBottom: f.sides[2] ? `1.5px solid ${f.color}` : "none",
            borderLeft: f.sides[3] ? `1.5px solid ${f.color}` : "none",
          }}
        />
      ))}
      {PANELS.map((p, i) => (
        <PanelChart key={"p" + i} def={p} />
      ))}
    </div>
  );
}
